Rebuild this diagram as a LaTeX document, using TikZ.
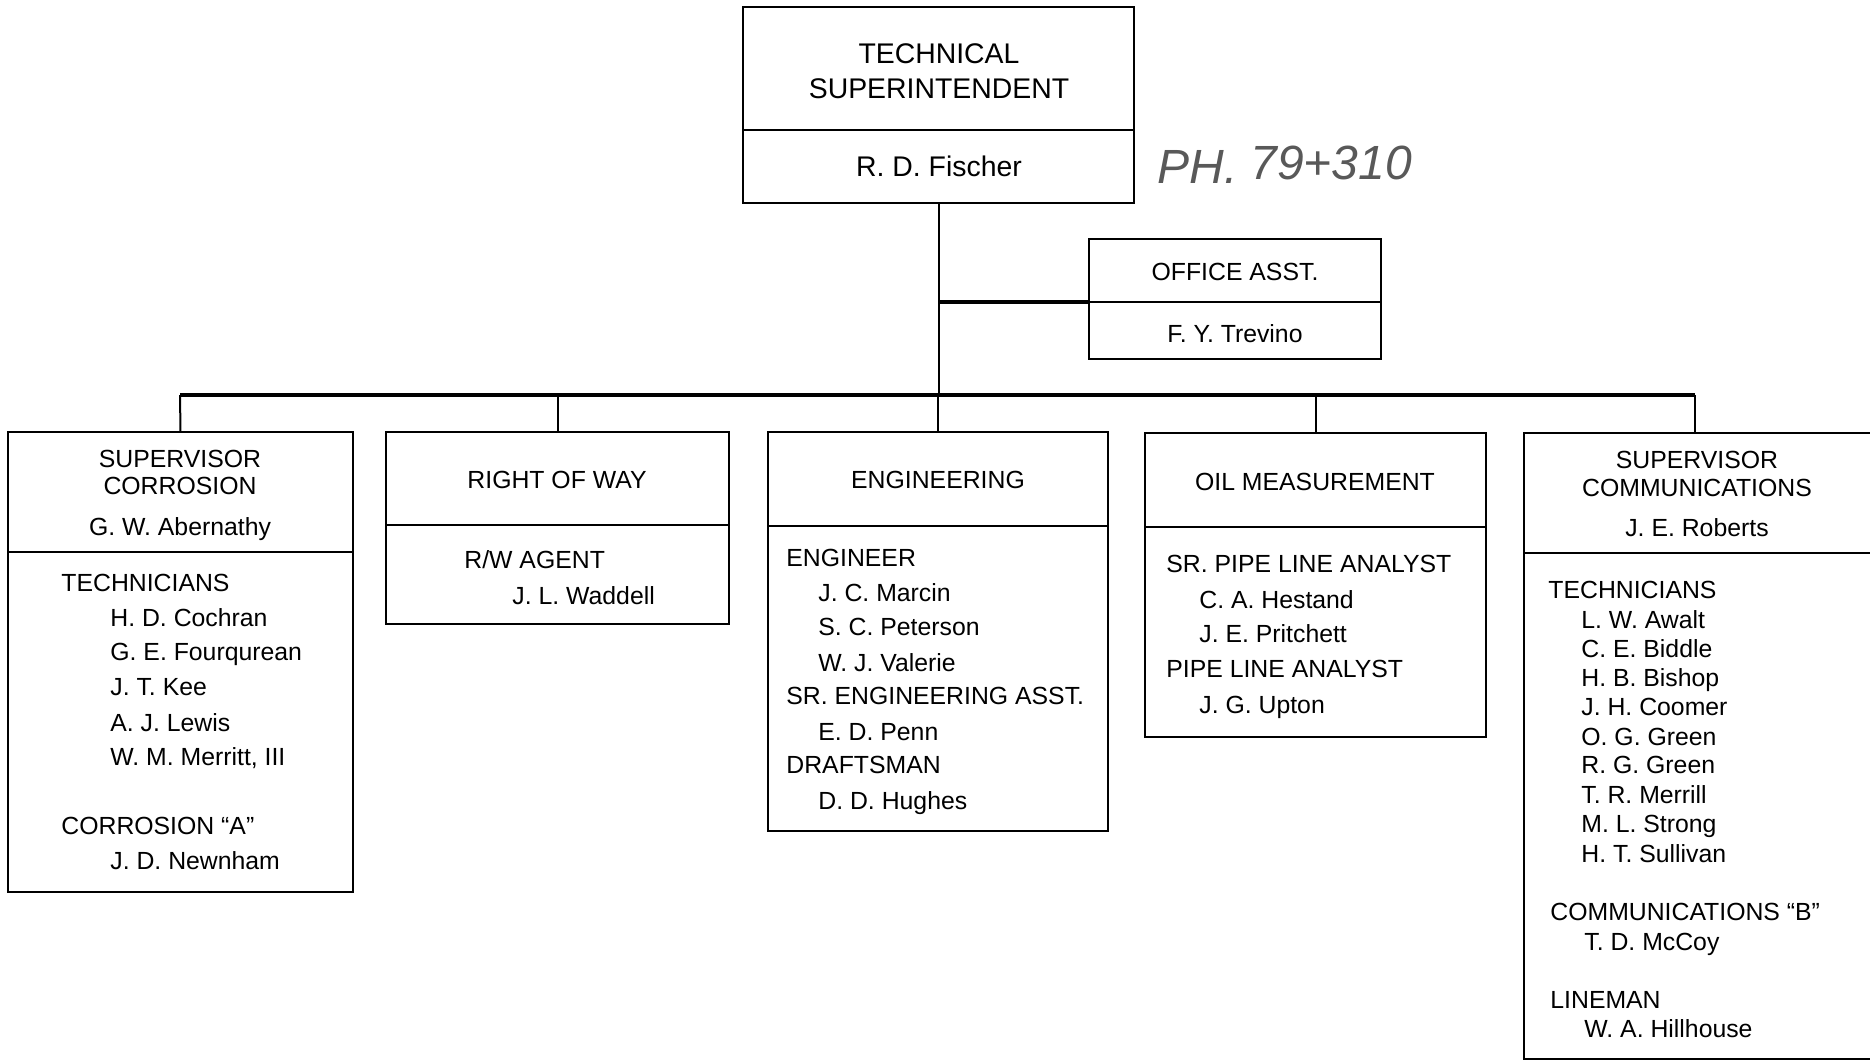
\documentclass[tikz,border=0pt]{standalone}
\usepackage{fontspec}
\setmainfont{Liberation Sans}
\usetikzlibrary{fit}
\begin{document}
\begin{tikzpicture}[x=0.5pt,y=-0.5pt,
  box/.style={draw, line width=0.8pt, inner sep=0pt, rectangle},
  divider/.style={line width=0.8pt},
  conn/.style={line width=1.6pt},
  drop/.style={line width=1pt},
  lbl/.style={anchor=base west, inner sep=0pt, font=\fontsize{12.4}{14}\selectfont},
  ctr/.style={anchor=base, inner sep=0pt, font=\fontsize{12.4}{14}\selectfont},
  bigctr/.style={anchor=base, inner sep=0pt, font=\fontsize{14.2}{16}\selectfont},
  hand/.style={anchor=base west, inner sep=0pt, font=\fontsize{24}{26}\selectfont\itshape, text=black!65},
]
\useasboundingbox (0,0) rectangle (1870,1062);
\clip (0,0) rectangle (1870,1062);

% ---------- boxes ----------
\node[box, fit={(743,7)(1134,203)}] (top) {};
\node[box, fit={(1089,239)(1381,359)}] (off) {};
\node[box, fit={(8,432)(353,892)}] (cor) {};
\node[box, fit={(386,432)(729,624)}] (row) {};
\node[box, fit={(768,432)(1108,831)}] (eng) {};
\node[box, fit={(1145,433)(1486,737)}] (oil) {};
\node[box, fit={(1524,433)(1890,1059)}] (com) {};

% ---------- dividers ----------
\draw[divider] (top.west |- 0,130) -- (top.east |- 0,130);
\draw[divider] (off.west |- 0,302) -- (off.east |- 0,302);
\draw[divider] (cor.west |- 0,552) -- (cor.east |- 0,552);
\draw[divider] (row.west |- 0,525) -- (row.east |- 0,525);
\draw[divider] (eng.west |- 0,526) -- (eng.east |- 0,526);
\draw[divider] (oil.west |- 0,527) -- (oil.east |- 0,527);
\draw[divider] (com.west |- 0,553) -- (com.east |- 0,553);

% ---------- connectors ----------
\coordinate (busL) at (180,395);
\coordinate (busR) at (1695,395);
\coordinate (offj) at (939,302);
\draw[conn] (busL) -- (busR);
\draw[drop] (top.south) -- (top.south |- busL);
\draw[conn] (offj) -- (off.west |- offj);
\draw[drop] (busL) -- (cor.north);
\draw[drop] (row.north |- busL) -- (row.north);
\draw[drop] (eng.north |- busL) -- (eng.north);
\draw[drop] (oil.north |- busL) -- (oil.north);
\draw[drop] (busR) -- (busR |- com.north);

% ---------- top ----------
\node[bigctr] (t1) at (939,63) {TECHNICAL};
\node[bigctr] (t2) at (939,98) {SUPERINTENDENT};
\node[bigctr] (t3) at (939,176) {R. D. Fischer};
\node[hand] (h1) at (1157,183) {PH.};
\node[hand] (h2) at (1250,179) {79+310};

% ---------- office ----------
\node[ctr] (o1) at (1235,280) {OFFICE ASST.};
\node[ctr] (o2) at (1235,342) {F. Y. Trevino};

% ---------- corrosion ----------
\node[ctr] (c1) at (180,467) {SUPERVISOR};
\node[ctr] (c2) at (180,494) {CORROSION};
\node[ctr] (c3) at (180,535) {G. W. Abernathy};
\node[lbl] (c4) at (61,591) {TECHNICIANS};
\node[lbl] (c5) at (110,626) {H. D. Cochran};
\node[lbl] (c6) at (110,660) {G. E. Fourqurean};
\node[lbl] (c7) at (110,695) {J. T. Kee};
\node[lbl] (c8) at (110,731) {A. J. Lewis};
\node[lbl] (c9) at (110,765) {W. M. Merritt, III};
\node[lbl] (c10) at (61,834) {CORROSION “A”};
\node[lbl] (c11) at (110,869) {J. D. Newnham};

% ---------- right of way ----------
\node[ctr] (r1) at (557,488) {RIGHT OF WAY};
\node[lbl] (r2) at (464,568) {R/W AGENT};
\node[lbl] (r3) at (512,604) {J. L. Waddell};

% ---------- engineering ----------
\node[ctr] (e1) at (938,488) {ENGINEERING};
\node[lbl] (e2) at (786,566) {ENGINEER};
\node[lbl] (e3) at (818,601) {J. C. Marcin};
\node[lbl] (e4) at (818,635) {S. C. Peterson};
\node[lbl] (e5) at (818,671) {W. J. Valerie};
\node[lbl] (e6) at (786,704) {SR. ENGINEERING ASST.};
\node[lbl] (e7) at (818,740) {E. D. Penn};
\node[lbl] (e8) at (786,773) {DRAFTSMAN};
\node[lbl] (e9) at (818,809) {D. D. Hughes};

% ---------- oil measurement ----------
\node[ctr] (m1) at (1315,490) {OIL MEASUREMENT};
\node[lbl] (m2) at (1166,572) {SR. PIPE LINE ANALYST};
\node[lbl] (m3) at (1199,608) {C. A. Hestand};
\node[lbl] (m4) at (1199,642) {J. E. Pritchett};
\node[lbl] (m5) at (1166,677) {PIPE LINE ANALYST};
\node[lbl] (m6) at (1199,713) {J. G. Upton};

% ---------- communications ----------
\node[ctr] (k1) at (1697,468) {SUPERVISOR};
\node[ctr] (k2) at (1697,496) {COMMUNICATIONS};
\node[ctr] (k3) at (1697,536) {J. E. Roberts};
\node[lbl] (k4) at (1548,598) {TECHNICIANS};
\node[lbl] (k5) at (1581,628) {L. W. Awalt};
\node[lbl] (k6) at (1581,657) {C. E. Biddle};
\node[lbl] (k7) at (1581,686) {H. B. Bishop};
\node[lbl] (k8) at (1581,715) {J. H. Coomer};
\node[lbl] (k9) at (1581,745) {O. G. Green};
\node[lbl] (k10) at (1581,773) {R. G. Green};
\node[lbl] (k11) at (1581,803) {T. R. Merrill};
\node[lbl] (k12) at (1581,832) {M. L. Strong};
\node[lbl] (k13) at (1581,862) {H. T. Sullivan};
\node[lbl] (k14) at (1550,920) {COMMUNICATIONS “B”};
\node[lbl] (k15) at (1584,950) {T. D. McCoy};
\node[lbl] (k16) at (1550,1008) {LINEMAN};
\node[lbl] (k17) at (1584,1037) {W. A. Hillhouse};
\end{tikzpicture}
\end{document}
